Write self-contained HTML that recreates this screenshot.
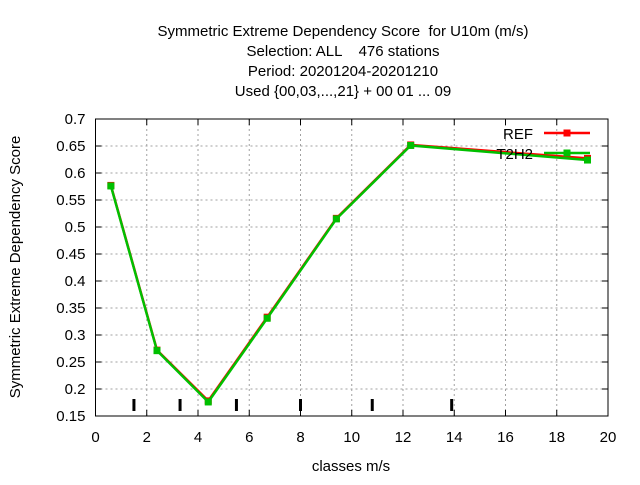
<!DOCTYPE html>
<html><head><meta charset="utf-8"><style>
body{margin:0;background:#fff}
svg text{font-family:"Liberation Sans",sans-serif;font-size:15px;fill:#000;white-space:pre}
</style></head><body>
<svg width="640" height="480">
<g text-anchor="middle">
<text x="343" y="36" xml:space="preserve">Symmetric Extreme Dependency Score  for U10m (m/s)</text>
<text x="343" y="56" xml:space="preserve">Selection: ALL    476 stations</text>
<text x="343" y="76">Period: 20201204-20201210</text>
<text x="343" y="96">Used {00,03,...,21} + 00 01 ... 09</text>
</g>
<g id="grid"></g>
<g id="axes"></g>
<g id="plot"></g>
<text x="351" y="471" text-anchor="middle">classes m/s</text>
<text transform="translate(20,267) rotate(-90)" text-anchor="middle">Symmetric Extreme Dependency Score</text>
</svg>
<script>
const xTicks=[0,2,4,6,8,10,12,14,16,18,20];
const yTicks=[0.15,0.2,0.25,0.3,0.35,0.4,0.45,0.5,0.55,0.6,0.65,0.7];
const yTickLabels=["0.15","0.2","0.25","0.3","0.35","0.4","0.45","0.5","0.55","0.6","0.65","0.7"];
const classX=[0.6,2.4,4.4,6.7,9.4,12.3,19.2];
const refValues=[0.577,0.272,0.178,0.333,0.516,0.652,0.627];
const t2h2Values=[0.576,0.271,0.176,0.331,0.515,0.651,0.624];
const classBounds=[1.5,3.3,5.5,8.0,10.8,13.9];
const X0=95.5,X1=608,Y0=416,Y1=119;
const sx=v=>X0+(v-0)/20*(X1-X0);
const sy=v=>Y0-(v-0.15)/0.55*(Y0-Y1);
const NS="http://www.w3.org/2000/svg";
function mk(p,t,a){const e=document.createElementNS(NS,t);for(const k in a)e.setAttribute(k,a[k]);p.appendChild(e);return e;}
const grid=document.getElementById('grid'),axes=document.getElementById('axes'),plot=document.getElementById('plot');
xTicks.forEach(t=>{
 if(t>0&&t<20){const l=mk(grid,'line',{x1:sx(t),x2:sx(t),y1:Y1,y2:Y0,stroke:'#a0a0a0','stroke-dasharray':'2,3'});
 }
 const tk=mk(axes,'line',{x1:sx(t),x2:sx(t),y1:Y0,y2:Y0-6,stroke:'#000'});
 
 const tk2=mk(axes,'line',{x1:sx(t),x2:sx(t),y1:Y1,y2:Y1+6,stroke:'#000'});
 
 const tx=mk(axes,'text',{x:sx(t),y:Y0+26,'text-anchor':'middle'});tx.textContent=t;
 
});
yTicks.forEach((t,i)=>{
 if(i>0&&i<yTicks.length-1){const l=mk(grid,'line',{x1:X0,x2:X1,y1:sy(t),y2:sy(t),stroke:'#a0a0a0','stroke-dasharray':'2,3'});
 }
 const tk=mk(axes,'line',{x1:X0,x2:X0+6,y1:sy(t),y2:sy(t),stroke:'#000'});
 
 const tk2=mk(axes,'line',{x1:X1,x2:X1-6,y1:sy(t),y2:sy(t),stroke:'#000'});
 
 const tx=mk(axes,'text',{x:X0-10,y:sy(t)+5,'text-anchor':'end'});tx.textContent=yTickLabels[i];
 
});
const fr=mk(axes,'rect',{x:X0,y:Y1,width:X1-X0,height:Y0-Y1,fill:'none',stroke:'#000'});

classBounds.forEach(b=>{const l=mk(plot,'line',{x1:sx(b),x2:sx(b),y1:399,y2:411,stroke:'#000','stroke-width':3});
 });
function series(vals,color,name,ly,dy){
 const g=mk(plot,'g',{});
 const pl=mk(g,'polyline',{points:classX.map((x,i)=>sx(x)+','+(sy(vals[i])+dy)).join(' '),fill:'none',stroke:color,'stroke-width':2.5});
 
 classX.forEach((x,i)=>{const r=mk(g,'rect',{x:sx(x)-3.5,y:sy(vals[i])+dy-3.5,width:7,height:7,fill:color});
  });
 const lg=mk(plot,'g',{});
 const t=mk(lg,'text',{x:533,y:ly+6,'text-anchor':'end'});t.textContent=name.toUpperCase();
 mk(lg,'line',{x1:544,x2:590,y1:ly,y2:ly,stroke:color,'stroke-width':2.5});
 mk(lg,'rect',{x:563.5,y:ly-3.5,width:7,height:7,fill:color});
}
series(refValues,'#ff0000','ref',133,0);
series(t2h2Values,'#00c000','t2h2',153,0);
</script>
</body></html>
